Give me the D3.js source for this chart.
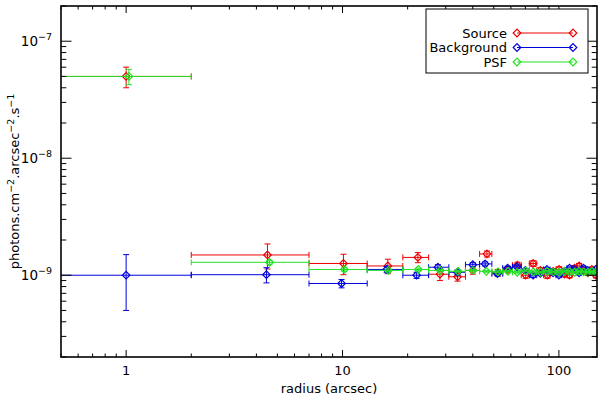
<!DOCTYPE html>
<html><head><meta charset="utf-8">
<script src="https://cdn.jsdelivr.net/npm/d3@7"></script>
<style>
html,body{margin:0;padding:0;background:#fff;}
text{font-family:"DejaVu Sans",sans-serif;fill:#000;}
</style></head>
<body><svg id="c" width="600" height="398"></svg>
<script>
// ---- data ----
const seriesNames = ["Source", "Background", "PSF"];
const seriesColors = ["#ee0000", "#0000dd", "#22e022"];
const binLo = [0.01, 2, 7, 13, 19, 25, 31, 37, 43, 49, 55, 61, 67, 73, 79, 85, 91, 97, 103, 109, 115, 121, 127, 133, 139, 145];
const binHi = [2, 7, 13, 19, 25, 31, 37, 43, 49, 55, 61, 67, 73, 79, 85, 91, 97, 103, 109, 115, 121, 127, 133, 139, 145, 151];
const sourceR = [1.0, 4.5, 10.1, 16.2, 22.3, 28.2, 34.0, 40.0, 46.5, 52.2, 58.1, 64.3, 70.2, 76.0, 82.1, 88.3, 94.0, 100.2, 106.1, 112.0, 118.2, 124.1, 130.0, 136.2, 142.0, 148.1];
const sourceY = [5.0e-8, 1.49e-9, 1.26e-9, 1.2e-9, 1.42e-9, 1.02e-9, 0.97e-9, 1.1e-9, 1.52e-9, 1.05e-9, 1.12e-9, 1.22e-9, 1.0e-9, 1.26e-9, 1.1e-9, 1.0e-9, 1.08e-9, 1.12e-9, 1.02e-9, 1.0e-9, 1.15e-9, 1.2e-9, 1.1e-9, 1.05e-9, 1.12e-9, 1.0e-9];
const sourceErr = [1.0e-8, 0.36e-9, 0.25e-9, 0.17e-9, 0.14e-9, 0.12e-9, 0.08e-9, 0.08e-9, 0.09e-9, 0.07e-9, 0.07e-9, 0.07e-9, 0.06e-9, 0.07e-9, 0.06e-9, 0.06e-9, 0.06e-9, 0.06e-9, 0.05e-9, 0.05e-9, 0.06e-9, 0.06e-9, 0.05e-9, 0.05e-9, 0.05e-9, 0.05e-9];
const backgroundR = [1.0, 4.45, 9.9, 16.0, 22.0, 27.6, 34.0, 40.0, 45.6, 52.0, 58.0, 64.0, 70.0, 76.0, 82.0, 88.0, 94.0, 100.0, 106.0, 112.0, 118.0, 124.0, 130.0, 136.0, 142.0, 148.0];
const backgroundY = [1.0e-9, 1.01e-9, 0.85e-9, 1.12e-9, 1.0e-9, 1.17e-9, 1.06e-9, 1.23e-9, 1.25e-9, 1.03e-9, 1.15e-9, 1.18e-9, 1.1e-9, 1.0e-9, 1.04e-9, 1.12e-9, 1.05e-9, 1.0e-9, 1.08e-9, 1.15e-9, 1.12e-9, 1.05e-9, 1.15e-9, 1.1e-9, 1.08e-9, 1.12e-9];
const backgroundErr = [0.5e-9, 0.15e-9, 0.07e-9, 0.07e-9, 0.06e-9, 0.06e-9, 0.05e-9, 0.05e-9, 0.05e-9, 0.04e-9, 0.04e-9, 0.04e-9, 0.04e-9, 0.04e-9, 0.04e-9, 0.04e-9, 0.04e-9, 0.03e-9, 0.03e-9, 0.03e-9, 0.03e-9, 0.03e-9, 0.03e-9, 0.03e-9, 0.03e-9, 0.03e-9];
const psfR = [1.03, 4.6, 10.2, 16.3, 22.4, 28.3, 34.2, 40.1, 46.2, 52.3, 58.2, 64.2, 70.3, 76.2, 82.2, 88.2, 94.2, 100.3, 106.2, 112.2, 118.3, 124.2, 130.2, 136.3, 142.2, 148.2];
const psfY = [5.0e-8, 1.29e-9, 1.12e-9, 1.1e-9, 1.12e-9, 1.1e-9, 1.08e-9, 1.1e-9, 1.08e-9, 1.07e-9, 1.08e-9, 1.06e-9, 1.09e-9, 1.07e-9, 1.06e-9, 1.08e-9, 1.07e-9, 1.06e-9, 1.08e-9, 1.07e-9, 1.06e-9, 1.08e-9, 1.07e-9, 1.06e-9, 1.08e-9, 1.06e-9];
const psfErr = [0.75e-8, 0.05e-9, 0.04e-9, 0.03e-9, 0.03e-9, 0.02e-9, 0.02e-9, 0.02e-9, 0.02e-9, 0.02e-9, 0.02e-9, 0.02e-9, 0.02e-9, 0.02e-9, 0.02e-9, 0.02e-9, 0.02e-9, 0.02e-9, 0.02e-9, 0.02e-9, 0.02e-9, 0.02e-9, 0.02e-9, 0.02e-9, 0.02e-9, 0.02e-9];
const xMajorTicks = [1, 10, 100];
const xTickLabels = ["1", "10", "100"];
const yMajorTicks = [1e-9, 1e-8, 1e-7];
const yTickExponents = ["\u22129", "\u22128", "\u22127"];
const xTitle = "radius (arcsec)";

// ---- layout ----
const L = 61, R = 597, T = 6, B = 357;
const svg = d3.select("#c");
const x = d3.scaleLog().domain([0.5, 150]).range([L, R]);
const y = d3.scaleLog().domain([2e-10, 2e-7]).range([B, T]);

const series = [
  {r: sourceR, v: sourceY, e: sourceErr},
  {r: backgroundR, v: backgroundY, e: backgroundErr},
  {r: psfR, v: psfY, e: psfErr}
];

svg.append("defs").append("clipPath").attr("id", "clip")
  .append("rect").attr("x", L).attr("y", T).attr("width", R - L).attr("height", B - T);

const plot = svg.append("g").attr("clip-path", "url(#clip)");
const cap = 3;
const dia = 3.8;
function diamond(g, cx, cy, col) {
  g.append("path")
    .attr("d", `M${cx},${cy - dia}L${cx + dia},${cy}L${cx},${cy + dia}L${cx - dia},${cy}Z`)
    .attr("fill", "none").attr("stroke", col).attr("stroke-width", 1.2);
}
series.forEach((s, k) => {
  const col = seriesColors[k];
  const g = plot.append("g").attr("stroke", col).attr("stroke-width", 1);
  s.r.forEach((r, i) => {
    const cx = x(r), cy = y(s.v[i]);
    const x0 = x(binLo[i]), x1 = x(binHi[i]);
    const y0 = y(s.v[i] - s.e[i]), y1 = y(s.v[i] + s.e[i]);
    g.append("line").attr("x1", x0).attr("x2", x1).attr("y1", cy).attr("y2", cy);
    g.append("line").attr("x1", x0).attr("x2", x0).attr("y1", cy - cap).attr("y2", cy + cap);
    g.append("line").attr("x1", x1).attr("x2", x1).attr("y1", cy - cap).attr("y2", cy + cap);
    g.append("line").attr("x1", cx).attr("x2", cx).attr("y1", y0).attr("y2", y1);
    g.append("line").attr("x1", cx - cap).attr("x2", cx + cap).attr("y1", y0).attr("y2", y0);
    g.append("line").attr("x1", cx - cap).attr("x2", cx + cap).attr("y1", y1).attr("y2", y1);
    diamond(g, cx, cy, col);
  });
});

// ---- axes ----
function logTicks(lo, hi) {
  const out = [];
  for (let p = Math.floor(Math.log10(lo)); p <= Math.ceil(Math.log10(hi)); p++) {
    for (let m = 1; m <= 9; m++) {
      const v = m * Math.pow(10, p);
      if (v >= lo * 0.9999 && v <= hi * 1.0001) out.push({v, major: m === 1});
    }
  }
  return out;
}
const ax = svg.append("g").attr("stroke", "#000").attr("stroke-width", 1);
logTicks(0.5, 150).forEach(t => {
  const len = t.major ? 7 : 3.5;
  const px = x(t.v);
  ax.append("line").attr("x1", px).attr("x2", px).attr("y1", B).attr("y2", B - len);
  ax.append("line").attr("x1", px).attr("x2", px).attr("y1", T).attr("y2", T + len);
});
logTicks(2e-10, 2e-7).forEach(t => {
  const len = t.major ? 10.5 : 5.3;
  const py = y(t.v);
  ax.append("line").attr("x1", L).attr("x2", L + len).attr("y1", py).attr("y2", py);
  ax.append("line").attr("x1", R).attr("x2", R - len).attr("y1", py).attr("y2", py);
});
svg.append("rect").attr("x", L).attr("y", T).attr("width", R - L).attr("height", B - T)
  .attr("fill", "none").attr("stroke", "#000").attr("stroke-width", 1.6);

xMajorTicks.forEach((v, i) => {
  svg.append("text").attr("x", x(v)).attr("y", B + 18).attr("text-anchor", "middle")
    .style("font-size", "13px").text(xTickLabels[i]);
});
yMajorTicks.forEach((v, i) => {
  const t = svg.append("text").attr("x", 52).attr("y", y(v) + 5).attr("text-anchor", "end")
    .style("font-size", "13.5px");
  t.append("tspan").text("10");
  t.append("tspan").attr("dy", -6).style("font-size", "9.5px").text(yTickExponents[i]);
});
svg.append("text").attr("x", (L + R) / 2).attr("y", B + 36).attr("text-anchor", "middle")
  .style("font-size", "13px").text(xTitle);

const yl = svg.append("text").attr("transform", `translate(19,${(T + B) / 2}) rotate(-90)`)
  .attr("text-anchor", "middle").style("font-size", "13px");
const parts = [["photons.cm", false], ["\u22122", true], [".arcsec", false], ["\u22122", true], [".s", false], ["\u22121", true]];
parts.forEach(([s, sup], i) => {
  const ts = yl.append("tspan").text(s);
  if (sup) ts.attr("dy", -5).style("font-size", "9.5px");
  else if (i > 0) ts.attr("dy", 5);
});

// ---- legend ----
const lg = svg.append("g");
lg.append("rect").attr("x", 426).attr("y", 9).attr("width", 162).attr("height", 64)
  .attr("fill", "#fff").attr("stroke", "#000").attr("stroke-width", 1);
const rows = [33, 47.5, 62];
seriesNames.forEach((n, k) => {
  const col = seriesColors[k], ry = rows[k];
  lg.append("text").attr("x", 507).attr("y", ry + 4.5).attr("text-anchor", "end")
    .style("font-size", "13px").text(n);
  lg.append("line").attr("x1", 517).attr("x2", 573).attr("y1", ry).attr("y2", ry)
    .attr("stroke", col).attr("stroke-width", 1);
  diamond(lg, 517, ry, col);
  diamond(lg, 573, ry, col);
});
</script></body></html>
